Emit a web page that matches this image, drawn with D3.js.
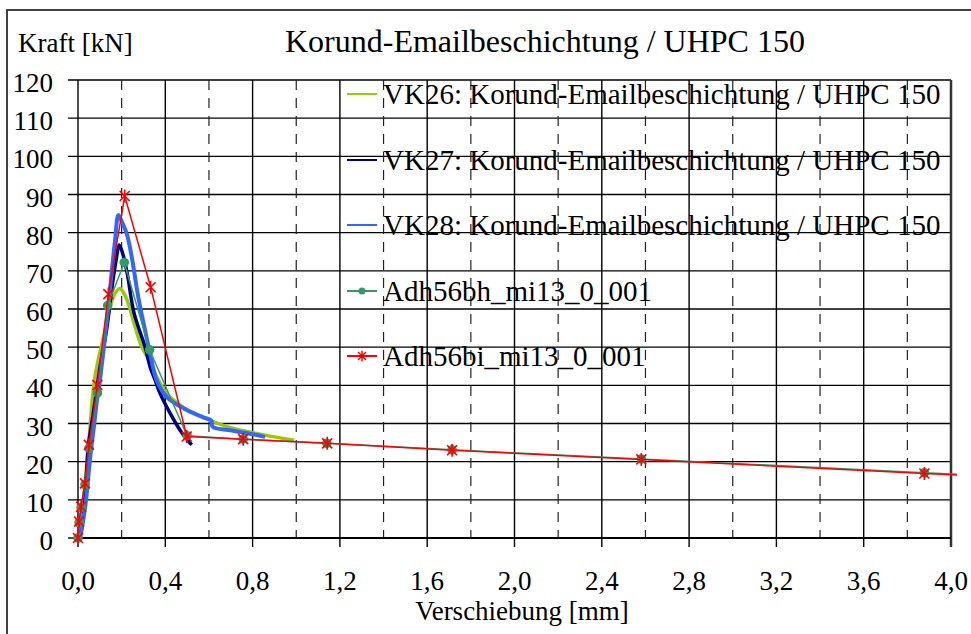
<!DOCTYPE html>
<html><head><meta charset="utf-8">
<script src="https://cdn.jsdelivr.net/npm/d3@7"></script>
<style>
html,body{margin:0;padding:0;background:#fff;}
#c text{font-family:"Liberation Serif","Tinos","Times New Roman",serif !important;}
</style></head>
<body><svg id="c" width="971" height="634"></svg>
<script>
// ---- data ----
const title = "Korund-Emailbeschichtung / UHPC 150";
const yLabel = "Kraft [kN]";
const xLabel = "Verschiebung [mm]";
const xTicks = [0,0.4,0.8,1.2,1.6,2.0,2.4,2.8,3.2,3.6,4.0];
const xMinor = [0.2,0.6,1.0,1.4,1.8,2.2,2.6,3.0,3.4,3.8];
const yTicks = [0,10,20,30,40,50,60,70,80,90,100,110,120];
const seriesNames = ["VK26: Korund-Emailbeschichtung / UHPC 150","VK27: Korund-Emailbeschichtung / UHPC 150","VK28: Korund-Emailbeschichtung / UHPC 150","Adh56bh_mi13_0_001","Adh56bi_mi13_0_001"];

const vk26X = [0.0,0.012,0.025,0.04,0.055,0.068,0.08,0.09,0.11,0.13,0.147,0.17,0.192,0.21,0.23,0.261,0.292,0.33,0.36,0.406,0.45,0.5,0.56,0.62,0.712,0.834,0.92,0.99];
const vk26Y = [0,3,10,19,29,38,43,46,51,56,60.6,64.1,65.4,64.2,61.5,55.4,50.1,46.2,42.3,37.9,35.6,33.6,32.0,30.5,28.7,27.2,26.3,25.6];

const vk27X = [0.006,0.015,0.025,0.035,0.047,0.07,0.101,0.131,0.154,0.175,0.189,0.205,0.225,0.257,0.307,0.33,0.353,0.376,0.422,0.467,0.5,0.521];
const vk27Y = [0,2,6,13,23.9,32.7,44.9,54.5,65,73,76.8,74.5,69.5,58.9,50.1,44.9,41.4,37.9,32.7,28.3,25.8,24.4];

const vk28X = [0.01,0.014,0.024,0.037,0.047,0.058,0.073,0.088,0.093,0.108,0.124,0.139,0.154,0.17,0.185,0.2,0.223,0.246,0.276,0.307,0.33,0.36,0.406,0.483,0.574,0.611,0.616,0.712,0.8,0.857];
const vk28Y = [0,1.2,4.7,10,16,22.2,29.2,36.5,37.9,44.9,52.7,60.6,69.4,78.1,84.6,83.0,79.8,73.7,63.2,54.5,48.4,41.4,37.0,34.0,31.6,30.8,29.2,28.1,27.2,26.5];

const adhBhX = [0,0.005,0.014,0.032,0.05,0.089,0.136,0.212,0.328,0.5,0.757,1.14,1.714,2.581,3.878,4.6];
const adhBhY = [0,4.0,8.0,14.0,23.5,38.0,60.9,72.2,49.3,26.8,25.9,24.8,23.1,20.7,17.1,15.2];

const adhBiX = [0,0.005,0.014,0.032,0.05,0.089,0.139,0.214,0.333,0.498,0.757,1.142,1.714,2.581,3.878,4.6];
const adhBiY = [0,4.3,8.2,14.3,24.4,40.1,63.9,89.6,65.7,26.6,25.9,24.8,23.0,20.6,16.9,14.9];

const colors = ["#99CC00","#000080","#3366FF","#339966","#FF0000"];
const FONT = "font-family:'Liberation Serif','Tinos','Times New Roman',serif !important";

// ---- chart ----
const svg = d3.select("#c");
const x = d3.scaleLinear().domain([0,4]).range([78,951]);
const y = d3.scaleLinear().domain([0,120]).range([538,80]);

svg.append("path").attr("d","M7,640 L7,10 L980,10").attr("fill","none").attr("stroke","#404040").attr("stroke-width",2);

svg.append("g").selectAll("line").data(yTicks.filter(d=>d>0)).join("line")
  .attr("x1",68).attr("x2",x(4)).attr("y1",d=>y(d)).attr("y2",d=>y(d))
  .attr("stroke","#000").attr("stroke-width",1.4);
svg.append("line").attr("x1",68).attr("x2",78).attr("y1",y(0)).attr("y2",y(0)).attr("stroke","#000").attr("stroke-width",1.4);

svg.append("g").selectAll("line").data(xMinor).join("line")
  .attr("x1",d=>x(d)).attr("x2",d=>x(d)).attr("y1",y(120)).attr("y2",y(0))
  .attr("stroke","#222").attr("stroke-width",1.2).attr("stroke-dasharray","10,8");
svg.append("g").selectAll("line").data(xTicks.slice(0,-1)).join("line")
  .attr("x1",d=>x(d)).attr("x2",d=>x(d)).attr("y1",y(120)).attr("y2",y(0)+9)
  .attr("stroke","#000").attr("stroke-width",1.4);
svg.append("line").attr("x1",x(4)).attr("x2",x(4)).attr("y1",y(120)).attr("y2",y(0)+9)
  .attr("stroke","#333").attr("stroke-width",2.5);
svg.append("line").attr("x1",x(0)).attr("x2",x(4)).attr("y1",y(0)).attr("y2",y(0))
  .attr("stroke","#000").attr("stroke-width",2);

svg.append("g").selectAll("text").data(yTicks).join("text")
  .attr("x",53).attr("y",d=>y(d)+12).attr("text-anchor","end").attr("font-size",27)
  .attr("style",FONT).text(d=>d);
svg.append("g").selectAll("text").data(xTicks).join("text")
  .attr("x",d=>x(d)).attr("y",590).attr("text-anchor","middle").attr("font-size",27)
  .attr("style",FONT).text(d=>d3.format(".1f")(d).replace(".",","));

svg.append("text").attr("x",18).attr("y",52).attr("font-size",27).attr("style",FONT).text(yLabel);
svg.append("text").attr("x",285).attr("y",52).attr("font-size",32).attr("style",FONT).text(title);
svg.append("text").attr("x",522).attr("y",620).attr("text-anchor","middle").attr("font-size",27).attr("style",FONT).text(xLabel);

svg.append("clipPath").attr("id","clip").append("rect").attr("x",0).attr("y",0).attr("width",957).attr("height",634);

const line = d3.line().x(d=>x(d[0])).y(d=>y(d[1])).curve(d3.curveCatmullRom.alpha(0.5));
const lineL = d3.line().x(d=>x(d[0])).y(d=>y(d[1]));
const zip = (a,b)=>a.map((v,i)=>[v,b[i]]);

const plot = svg.append("g").attr("clip-path","url(#clip)");
plot.append("path").attr("d",line(zip(vk26X,vk26Y))).attr("fill","none").attr("stroke",colors[0]).attr("stroke-width",3.5).attr("stroke-linejoin","round");
plot.append("path").attr("d",line(zip(vk27X,vk27Y))).attr("fill","none").attr("stroke",colors[1]).attr("stroke-width",3.5).attr("stroke-linejoin","round");
plot.append("path").attr("d",line(zip(vk28X,vk28Y))).attr("fill","none").attr("stroke",colors[2]).attr("stroke-width",4).attr("stroke-linejoin","round");

const bh = zip(adhBhX,adhBhY), bi = zip(adhBiX,adhBiY);
plot.append("path").attr("d",lineL(bh)).attr("fill","none").attr("stroke",colors[3]).attr("stroke-width",1.5);
plot.append("g").selectAll("circle").data(bh).join("circle")
  .attr("cx",d=>x(d[0])).attr("cy",d=>y(d[1])).attr("r",4.8).attr("fill",colors[3]);
plot.append("path").attr("d",lineL(bi)).attr("fill","none").attr("stroke",colors[4]).attr("stroke-width",1.5);
const star = s=>`M${-s},${-s}L${s},${s}M${-s},${s}L${s},${-s}M0,${-s*1.3}L0,${s*1.3}`;
plot.append("g").selectAll("path").data(bi).join("path")
  .attr("transform",d=>`translate(${x(d[0])},${y(d[1])})`).attr("d",star(5))
  .attr("fill","none").attr("stroke",colors[4]).attr("stroke-width",1.6);

const legY = [94,160,225,291,356];
const leg = svg.append("g");
seriesNames.forEach((n,i)=>{
  leg.append("line").attr("x1",347).attr("x2",377).attr("y1",legY[i]).attr("y2",legY[i])
    .attr("stroke",colors[i]).attr("stroke-width",2);
  if(i===3) leg.append("circle").attr("cx",362).attr("cy",legY[i]).attr("r",3.5).attr("fill",colors[3]);
  if(i===4) leg.append("path").attr("transform",`translate(362,${legY[i]})`).attr("d",star(4)).attr("fill","none").attr("stroke",colors[4]).attr("stroke-width",1.5);
  leg.append("text").attr("x",383).attr("y",legY[i]+10).attr("font-size",29).attr("style",FONT).text(n);
});
</script></body></html>
